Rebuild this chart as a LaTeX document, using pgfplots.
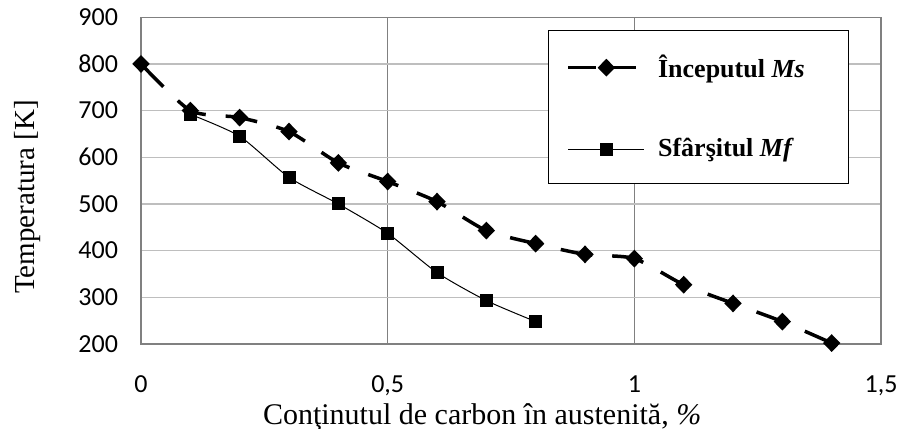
\documentclass[border=0pt]{standalone}
\usepackage{fontspec}
\setmainfont{Liberation Serif}
\newfontfamily\calibri{Carlito}
\usepackage{pgfplots}
\pgfplotsset{compat=1.18}
\definecolor{gridlight}{RGB}{190,190,190}
\definecolor{griddark}{RGB}{128,128,128}
\pgfplotsset{
  msleg/.style={legend image code/.code={\draw[##1, mark repeat=2, mark phase=2, dash pattern=on 14pt off 6pt] plot coordinates {(0pt,0pt) (19pt,0pt) (38pt,0pt)};}},
  mfleg/.style={legend image code/.code={\draw[##1, mark repeat=2, mark phase=2] plot coordinates {(0pt,0pt) (19pt,0pt) (38pt,0pt)};}},
}
\begin{document}
\begin{tikzpicture}
\begin{axis}[
  scale only axis,
  width=370pt, height=163.4pt,
  xmin=0, xmax=1.5, ymin=200, ymax=900,
  xtick={0,0.5,1,1.5},
  ytick={200,300,400,500,600,700,800,900},
  xticklabels={0,{0,5},1,{1,5}},
  yticklabels={200,300,400,500,600,700,800,900},
  major tick length=0pt,
  axis line style={griddark, line width=0.6pt},
  xmajorgrids, ymajorgrids,
  x grid style={griddark, line width=0.6pt},
  y grid style={gridlight, line width=0.6pt},
  tick label style={font=\calibri\fontsize{13}{15}\selectfont},
  xticklabel style={anchor=north, yshift=-12.5pt},
  yticklabel style={anchor=east, xshift=-8pt},
  xlabel={Conţinutul de carbon în austenită, \textit{\%}},
  ylabel={Temperatura [K]},
  label style={font=\fontsize{14.5}{16}\selectfont},
  xlabel style={at={(axis description cs:0.461,0)}, anchor=base, yshift=-40pt, font=\fontsize{15}{17}\selectfont},
  ylabel style={at={(axis description cs:-0.154,0.45)}, anchor=center},
  clip=false,
  legend style={at={(axis description cs:0.55,0.96)}, anchor=north west,
    draw=black, line width=0.6pt, font=\bfseries\fontsize{13}{15}\selectfont,
    inner xsep=9pt, inner ysep=11pt, row sep=27pt,
    nodes={inner sep=1pt},
    /tikz/every odd column/.append style={column sep=5pt}},
  legend cell align=left,
]
\addplot[black, line width=1.75pt, dash pattern=on 16pt off 10pt, smooth, tension=0.4,
  mark=diamond*, mark size=3.2pt, mark options={solid, xscale=1.3}, msleg]
  coordinates {(0,800) (0.1,700) (0.2,685) (0.3,655) (0.4,588) (0.5,548) (0.6,505) (0.7,443) (0.8,415) (0.9,392) (1.0,383) (1.1,327) (1.2,287) (1.3,248) (1.4,202)};
\addlegendentry{Începutul \textit{Ms}\hspace*{12pt}}
\addplot[black, line width=0.5pt, smooth, tension=0.4,
  mark=square*, mark size=3pt, mark options={solid}, mfleg]
  coordinates {(0.1,692) (0.2,645) (0.3,557) (0.4,500) (0.5,437) (0.6,353) (0.7,293) (0.8,248)};
\addlegendentry{Sfârşitul \textit{Mf}\hspace*{12pt}}
\end{axis}
\pgfresetboundingbox
\path (-70.5pt,-42pt) rectangle (378pt,172pt);
\end{tikzpicture}
\end{document}
